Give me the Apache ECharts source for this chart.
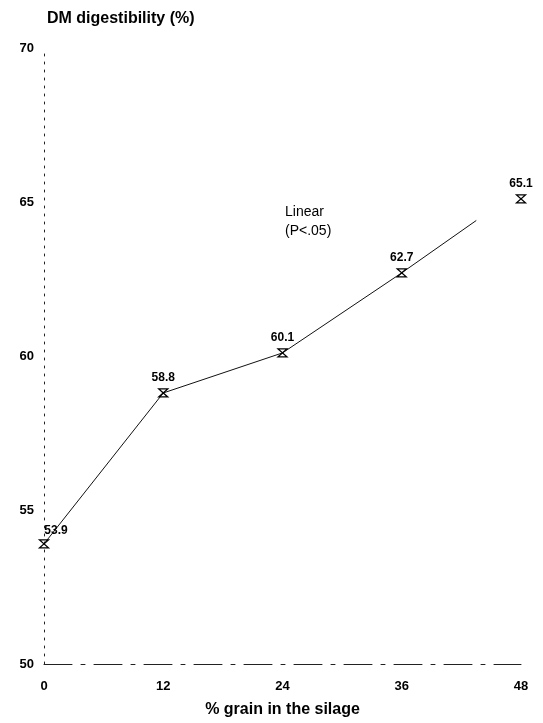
<!DOCTYPE html>
<html>
<head>
<meta charset="utf-8">
<script src="https://cdn.jsdelivr.net/npm/echarts@6/dist/echarts.min.js"></script>
<style>
  html, body { margin: 0; padding: 0; background: #fff; }
  #chart { width: 543px; height: 723px; }
</style>
</head>
<body>
<div id="chart"></div>
<script>
// data
const grain = [0, 12, 24, 36, 48];
const digestibility = [53.9, 58.8, 60.1, 62.7, 65.1];
// the drawn line stops short of the last point
const lineEnd = [43.5, 64.4];
const xTicks = [0, 12, 24, 36, 48];
const yTicks = [50, 55, 60, 65, 70];

const ink = '#000';
const font = 'Liberation Sans, Arial, sans-serif';

const chart = echarts.init(document.getElementById('chart'));

const linePts = grain.slice(0, 4).map((g, i) => [g, digestibility[i]]);
linePts.push(lineEnd);

const option = {
  animation: false,
  title: {
    text: 'DM digestibility (%)',
    left: 42,
    top: 6,
    textStyle: { fontFamily: font, fontSize: 16, fontWeight: 'bold', color: ink }
  },
  grid: { left: 44, right: 22, top: 48, bottom: 57 },
  xAxis: {
    type: 'value',
    min: 0, max: 48, interval: 12,
    name: '% grain in the silage',
    nameLocation: 'middle',
    nameGap: 38,
    nameTextStyle: { fontFamily: font, fontSize: 16, fontWeight: 'bold', color: ink },
    axisLine: { lineStyle: { color: '#222', width: 1, type: [28, 9, 4, 9] } },
    axisTick: { show: false },
    splitLine: { show: false },
    axisLabel: {
      margin: 16,
      fontFamily: font, fontSize: 13, fontWeight: 'bold', color: ink,
      formatter: v => xTicks.includes(v) ? String(v) : ''
    }
  },
  yAxis: {
    type: 'value',
    min: 50, max: 70, interval: 5,
    axisLine: { show: true, lineStyle: { color: '#222', width: 1, type: [2, 6] } },
    axisTick: { show: false },
    splitLine: { show: false },
    axisLabel: {
      margin: 10,
      fontFamily: font, fontSize: 13, fontWeight: 'bold', color: ink,
      formatter: v => yTicks.includes(v) ? String(v) : ''
    }
  },
  graphic: [{
    type: 'text',
    left: 285,
    top: 203,
    style: {
      text: 'Linear\n(P<.05)',
      font: '14px ' + font,
      fill: ink,
      lineHeight: 19
    }
  }],
  series: [
    {
      type: 'line',
      data: linePts,
      symbol: 'none',
      lineStyle: { color: '#111', width: 1 },
      silent: true,
      z: 2
    },
    {
      type: 'scatter',
      data: grain.map((g, i) => [g, digestibility[i]]),
      symbol: 'path://M0,0 L10,0 L0,10 L10,10 Z',
      symbolSize: [9, 8],
      itemStyle: { color: 'transparent', borderColor: ink, borderWidth: 1.3, opacity: 1 },
      label: {
        show: true,
        position: 'top',
        distance: 5,
        fontFamily: font, fontSize: 12, fontWeight: 'bold', color: ink,
        formatter: p => p.value[1].toFixed(1)
      },
      labelLayout: p => p.dataIndex === 0 ? { dx: 12, dy: 2 } : {},
      silent: true,
      z: 3
    }
  ]
};

chart.setOption(option);
</script>
</body>
</html>
